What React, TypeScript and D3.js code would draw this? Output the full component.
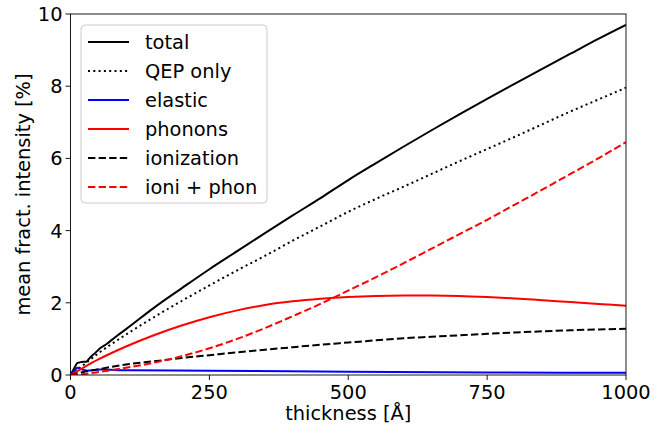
import React from "react";
import * as d3 from "d3";

// thickness grid [Å] and mean fractional intensities [%]
const thicknessTotal = [0, 8, 12, 20, 28, 35, 45, 55, 65, 75, 85, 100, 150, 200, 250, 300, 350, 400, 450, 500, 550, 600, 650, 700, 750, 800, 850, 900, 950, 1000];
const totalValues = [0, 0.22, 0.33, 0.36, 0.37, 0.48, 0.62, 0.76, 0.86, 0.98, 1.1, 1.27, 1.86, 2.4, 2.93, 3.43, 3.93, 4.42, 4.9, 5.4, 5.87, 6.33, 6.78, 7.22, 7.65, 8.07, 8.49, 8.9, 9.31, 9.7];

const thickness = [0, 25, 50, 100, 150, 200, 250, 300, 350, 400, 450, 500, 550, 600, 650, 700, 750, 800, 850, 900, 950, 1000];
const qepValues = [0, 0.3, 0.6, 1.12, 1.6, 2.05, 2.48, 2.9, 3.3, 3.72, 4.12, 4.52, 4.88, 5.22, 5.57, 5.92, 6.26, 6.6, 6.95, 7.3, 7.63, 7.96];
const phononValues = [0, 0.22, 0.43, 0.79, 1.1, 1.37, 1.6, 1.79, 1.94, 2.04, 2.11, 2.16, 2.19, 2.2, 2.2, 2.19, 2.16, 2.12, 2.07, 2.02, 1.97, 1.92];
const ionizationValues = [0, 0.09, 0.16, 0.29, 0.38, 0.47, 0.55, 0.63, 0.7, 0.77, 0.84, 0.9, 0.96, 1.02, 1.06, 1.1, 1.14, 1.18, 1.21, 1.24, 1.26, 1.28];
const ioniPhonValues = [0, 0.03, 0.08, 0.2, 0.34, 0.52, 0.74, 1.0, 1.3, 1.63, 1.97, 2.34, 2.71, 3.1, 3.5, 3.9, 4.3, 4.72, 5.14, 5.57, 6.0, 6.45];

const thicknessElastic = [0, 7, 13, 22, 30, 45, 55, 100, 250, 500, 750, 1000];
const elasticValues = [0, 0.12, 0.2, 0.15, 0.12, 0.14, 0.15, 0.13, 0.12, 0.09, 0.07, 0.06];

const xTicks = [0, 250, 500, 750, 1000];
const yTicks = [0, 2, 4, 6, 8, 10];

const legendLabels = ["total", "QEP only", "elastic", "phonons", "ionization", "ioni + phon"];

type Series = { label: string; xs: number[]; ys: number[]; color: string; dash: string | null };

const FONT = "DejaVu Sans, sans-serif";

export default function App() {
  const width = 672;
  const height = 430;
  const left = 70.5;
  const right = 626;
  const top = 14;
  const bottom = 375;

  const x = d3.scaleLinear().domain([0, 1000]).range([left, right]);
  const y = d3.scaleLinear().domain([0, 10]).range([bottom, top]);

  const series: Series[] = [
    { label: legendLabels[0], xs: thicknessTotal, ys: totalValues, color: "#000000", dash: null },
    { label: legendLabels[1], xs: thickness, ys: qepValues, color: "#000000", dash: "2,3.3" },
    { label: legendLabels[2], xs: thicknessElastic, ys: elasticValues, color: "#0000ff", dash: null },
    { label: legendLabels[3], xs: thickness, ys: phononValues, color: "#ff0000", dash: null },
    { label: legendLabels[4], xs: thickness, ys: ionizationValues, color: "#000000", dash: "7.4,3.2" },
    { label: legendLabels[5], xs: thickness, ys: ioniPhonValues, color: "#ff0000", dash: "7.4,3.2" },
  ];

  const line = (xs: number[], ys: number[]) =>
    d3
      .line<number>()
      .x((_, i) => x(xs[i]))
      .y((d) => y(d))
      .curve(d3.curveMonotoneX)(ys) || "";

  const legX = 81;
  const legY = 25;
  const legW = 186;
  const legH = 178;
  const rowGap = 29;

  return (
    <svg
      width={width}
      height={height}
      style={{ position: "absolute", left: 0, top: 0, background: "#fff" }}
      fontFamily={FONT}
    >
      <defs>
        <clipPath id="plot-area">
          <rect x={left} y={top} width={right - left} height={bottom - top} />
        </clipPath>
      </defs>

      <g clipPath="url(#plot-area)">
        {series.map((s) => (
          <path
            key={s.label}
            d={line(s.xs, s.ys)}
            fill="none"
            stroke={s.color}
            strokeWidth={2}
            strokeDasharray={s.dash || undefined}
            strokeLinejoin="round"
          />
        ))}
      </g>

      {/* spines */}
      <rect x={left} y={top} width={right - left} height={bottom - top} fill="none" stroke="#000" strokeWidth={0.9} />

      {/* x axis ticks */}
      {xTicks.map((t) => (
        <g key={`x${t}`}>
          <line x1={x(t)} x2={x(t)} y1={bottom} y2={bottom + 5} stroke="#000" strokeWidth={0.9} />
          <text x={x(t)} y={bottom + 24} textAnchor="middle" fontSize={19.4} fill="#000">
            {t}
          </text>
        </g>
      ))}

      {/* y axis ticks */}
      {yTicks.map((t) => (
        <g key={`y${t}`}>
          <line x1={left - 5} x2={left} y1={y(t)} y2={y(t)} stroke="#000" strokeWidth={0.9} />
          <text x={left - 8} y={y(t) + 7} textAnchor="end" fontSize={19.4} fill="#000">
            {t}
          </text>
        </g>
      ))}

      <text x={(left + right) / 2} y={420} textAnchor="middle" fontSize={19.4} fill="#000">
        thickness [Å]
      </text>
      <text
        transform={`translate(30, ${(top + bottom) / 2}) rotate(-90)`}
        textAnchor="middle"
        fontSize={19.4}
        fill="#000"
      >
        mean fract. intensity [%]
      </text>

      {/* legend */}
      <rect x={legX} y={legY} width={legW} height={legH} rx={4} fill="#fff" fillOpacity={0.8} stroke="#cccccc" strokeWidth={1} />
      {series.map((s, i) => {
        const cy = legY + 17 + i * rowGap;
        return (
          <g key={`leg${s.label}`}>
            <line
              x1={legX + 7}
              x2={legX + 48}
              y1={cy}
              y2={cy}
              stroke={s.color}
              strokeWidth={2}
              strokeDasharray={s.dash || undefined}
            />
            <text x={legX + 64} y={cy + 7} fontSize={19.4} fill="#000">
              {s.label}
            </text>
          </g>
        );
      })}
    </svg>
  );
}
